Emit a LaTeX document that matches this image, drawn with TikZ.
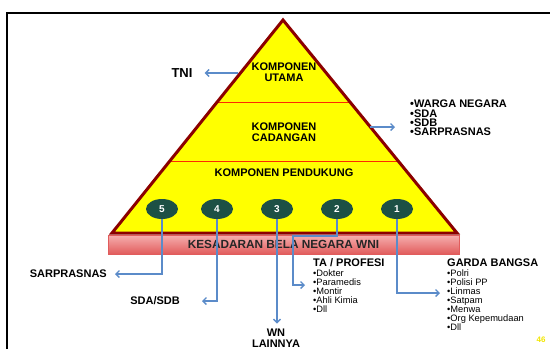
\documentclass[tikz,border=0pt]{standalone}
\usepackage{fontspec}
\setmainfont{Liberation Sans}
\usetikzlibrary{arrows.meta,shapes.geometric}
\definecolor{trifill}{HTML}{FFFF00}
\definecolor{tribord}{HTML}{8B0000}
\definecolor{layline}{HTML}{FF2A00}
\definecolor{connc}{HTML}{5B8BC9}
\definecolor{circc}{HTML}{1D5045}
\definecolor{bartop}{HTML}{F6AFAF}
\definecolor{barbot}{HTML}{E15C5C}
\definecolor{pagenum}{HTML}{F2E600}
\begin{document}
\begin{tikzpicture}[x=1pt,y=-1pt,
  lbl/.style={font=\fontsize{11}{11}\selectfont\bfseries, inner sep=0pt, align=center},
  blist/.style={font=\fontsize{11}{9.2}\selectfont\bfseries, inner sep=0pt, align=left},
  item/.style={font=\fontsize{9.3}{9}\selectfont, inner sep=0pt, align=left},
  num/.style={ellipse, fill=circc, text=white, minimum width=32pt, minimum height=20pt, inner sep=0pt, font=\fontsize{10}{10}\selectfont\bfseries},
  conn/.style={draw=connc, line width=1.3pt, -{Straight Barb[length=3.5pt,width=7pt]}},
  barbox/.style={rectangle, minimum width=351pt, minimum height=19pt, inner sep=0pt, top color=bartop, bottom color=barbot, draw=barbot, line width=0.6pt, font=\fontsize{11.8}{12}\selectfont\bfseries, text=black!85}
]
\useasboundingbox (0,0) rectangle (550,349);
% frame
\draw[line width=2pt] (7,349) -- (7,13) -- (550,13);
% pyramid
\fill[trifill] (283,20) -- (457,233) -- (112,233) -- cycle;
\draw[layline, line width=1pt] (217,102) -- (350,102);
\draw[layline, line width=1pt] (170,161) -- (398,161);
\draw[tribord, line width=3pt, line join=miter] (283,20) -- (457,233) -- (112,233) -- cycle;
\node[lbl] (utama) at (284,72) {KOMPONEN\\UTAMA};
\node[lbl] (cadangan) at (284,132) {KOMPONEN\\CADANGAN};
\node[lbl] (pendukung) at (284,173) {KOMPONEN PENDUKUNG};
% base bar
\node[barbox] (bar) at (283.5,244.5) {KESADARAN BELA NEGARA WNI};
% numbered circles
\node[num] (c5) at (162,209) {5};
\node[num] (c4) at (217,209) {4};
\node[num] (c3) at (277,209) {3};
\node[num] (c2) at (337,209) {2};
\node[num] (c1) at (397,209) {1};
% side labels
\node[font=\fontsize{13}{13}\selectfont\bfseries, inner sep=0pt] (tni) at (182,73) {TNI};
\coordinate (tniS) at (238,73);
\draw[conn, shorten >=12pt] (tniS) -- (tni);
\node[blist, anchor=west] (wlist) at (410,118) {•WARGA NEGARA\\•SDA\\•SDB\\•SARPRASNAS};
\coordinate (cadS) at (370,127);
\draw[conn, shorten >=15pt] (cadS) -- (cadS -| wlist.west);
% bottom targets
\node[lbl, anchor=east] (sarpras) at (107,274) {SARPRASNAS};
\node[lbl, anchor=east] (sdasdb) at (180,301) {SDA/SDB};
\node[lbl] (wnl) at (276,338) {WN\\LAINNYA};
\node[lbl, anchor=west] (tatitle) at (313,263) {TA / PROFESI};
\node[item, anchor=west] (taitems) at (313,291) {•Dokter\\•Paramedis\\•Montir\\•Ahli Kimia\\•Dll};
\node[lbl, anchor=west] (gbtitle) at (447,263) {GARDA BANGSA};
\node[item, anchor=west] (gbitems) at (447,300) {•Polri\\•Polisi PP\\•Linmas\\•Satpam\\•Menwa\\•Org Kepemudaan\\•Dll};
% connectors
\draw[conn, shorten >=8pt] (c5) |- (sarpras);
\draw[conn, shorten >=22pt] (c4) |- (sdasdb);
\draw[conn, shorten >=5pt] (c3) -- (c3 |- wnl.north);
\coordinate (k2) at (293,236);
\coordinate (taArr) at (305,285);
\draw[conn] (c2) |- (k2) |- (taArr);
\coordinate (gbArr) at (440,293);
\draw[conn] (c1) |- (gbArr);
% page number
\node[font=\fontsize{8}{8}\selectfont\bfseries, text=pagenum, inner sep=0pt] (pg) at (541,340) {46};
\end{tikzpicture}
\end{document}
